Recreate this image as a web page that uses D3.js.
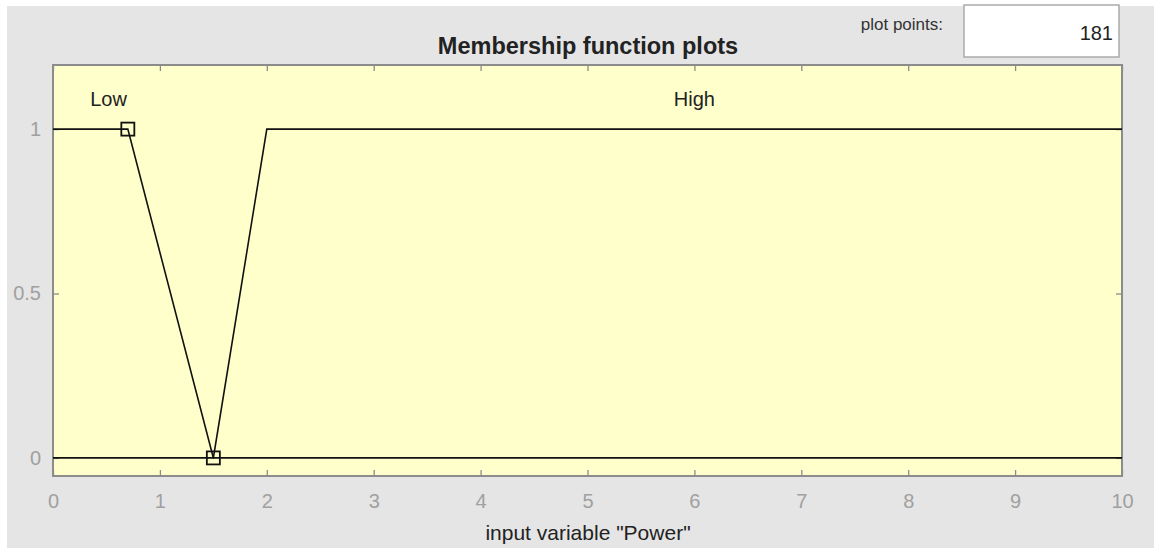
<!DOCTYPE html>
<html>
<head>
<meta charset="utf-8">
<script src="https://cdn.jsdelivr.net/npm/d3@7"></script>
<style>
body { margin: 0; background: #fff; }
svg { font-family: "Liberation Sans", Arial, sans-serif; }
</style>
</head>
<body>
<svg id="chart" width="1154" height="548"></svg>
<script>
// membership function data
const mfNames = ["Low", "High"];
const lowX = [0, 0.7, 1.5, 10];
const lowY = [1, 1, 0, 0];
const highX = [0, 1.5, 2, 10];
const highY = [0, 0, 1, 1];
const markerX = [0.7, 1.5];
const markerY = [1, 0];
const labelX = [0.52, 6];
const xTicks = [0, 1, 2, 3, 4, 5, 6, 7, 8, 9, 10];
const yTicks = [0, 0.5, 1];
const plotPoints = 181;

const margin = {top: 65, right: 32, bottom: 72, left: 53};
const W = 1154, H = 548;

let svg = d3.select("#chart");

// gray figure panel
svg.append("rect").attr("x", 7).attr("y", 6).attr("width", W - 7).attr("height", H - 6).attr("fill", "#e5e5e5");

let x = d3.scaleLinear().domain([0, 10]).range([margin.left, W - margin.right]);
let y = d3.scaleLinear().domain([-0.055, 1.195]).range([H - margin.bottom, margin.top]);

svg.append("rect")
    .attr("x", x(0)).attr("y", y(1.195))
    .attr("width", x(10) - x(0)).attr("height", y(-0.055) - y(1.195))
    .attr("fill", "#ffffcc");

// axes with inward ticks
function styleAxis(g, showText) {
    g.select(".domain").remove();
    g.selectAll(".tick line").attr("stroke", "#8c8c8c").attr("stroke-width", 1.3);
    g.selectAll(".tick text").attr("fill", "#a0a0a0").style("font-size", "20px");
    if (!showText) g.selectAll(".tick text").remove();
}

svg.append("g").attr("transform", `translate(0,${y(-0.055)})`)
    .call(d3.axisBottom(x).tickValues(xTicks).tickSize(-6).tickPadding(18))
    .call(g => styleAxis(g, true));
svg.append("g").attr("transform", `translate(0,${y(1.195)})`)
    .call(d3.axisTop(x).tickValues(xTicks).tickSize(-6))
    .call(g => styleAxis(g, false));
svg.append("g").attr("transform", `translate(${x(0)},0)`)
    .call(d3.axisLeft(y).tickValues(yTicks).tickSize(-6).tickPadding(12).tickFormat(d => d))
    .call(g => styleAxis(g, true));
svg.append("g").attr("transform", `translate(${x(10)},0)`)
    .call(d3.axisRight(y).tickValues(yTicks).tickSize(-6))
    .call(g => styleAxis(g, false));

svg.append("rect")
    .attr("x", x(0)).attr("y", y(1.195))
    .attr("width", x(10) - x(0)).attr("height", y(-0.055) - y(1.195))
    .attr("fill", "none").attr("stroke", "#8c8c8c").attr("stroke-width", 2);

let line = d3.line().x(d => x(d[0])).y(d => y(d[1]));

svg.append("path").datum(d3.zip(lowX, lowY)).attr("d", line)
    .attr("fill", "none").attr("stroke", "#111").attr("stroke-width", 1.6);
svg.append("path").datum(d3.zip(highX, highY)).attr("d", line)
    .attr("fill", "none").attr("stroke", "#111").attr("stroke-width", 1.6);

svg.selectAll(".marker").data(d3.zip(markerX, markerY)).enter()
    .append("rect")
    .attr("x", d => x(d[0]) - 6.5).attr("y", d => y(d[1]) - 6.5)
    .attr("width", 13).attr("height", 13)
    .attr("fill", "none").attr("stroke", "#111").attr("stroke-width", 1.8);

svg.selectAll(".mflabel").data(mfNames).enter()
    .append("text")
    .attr("x", (d, i) => x(labelX[i])).attr("y", 106)
    .attr("text-anchor", "middle")
    .style("font-size", "20px").attr("fill", "#222")
    .text(d => d);

svg.append("text").attr("x", 588).attr("y", 54)
    .attr("text-anchor", "middle").style("font-size", "23.5px").style("font-weight", "bold")
    .attr("fill", "#222").text("Membership function plots");

svg.append("text").attr("x", 588).attr("y", 540)
    .attr("text-anchor", "middle").style("font-size", "21px")
    .attr("fill", "#222").text('input variable "Power"');

// plot points box
svg.append("text").attr("x", 943).attr("y", 30)
    .attr("text-anchor", "end").style("font-size", "17px")
    .attr("fill", "#333").text("plot points:");
svg.append("rect").attr("x", 964).attr("y", 5).attr("width", 155).attr("height", 52)
    .attr("fill", "#fff").attr("stroke", "#aaa").attr("stroke-width", 1.5);
svg.append("text").attr("x", 1113).attr("y", 40)
    .attr("text-anchor", "end").style("font-size", "20px")
    .attr("fill", "#222").text(plotPoints);
</script>
</body>
</html>
